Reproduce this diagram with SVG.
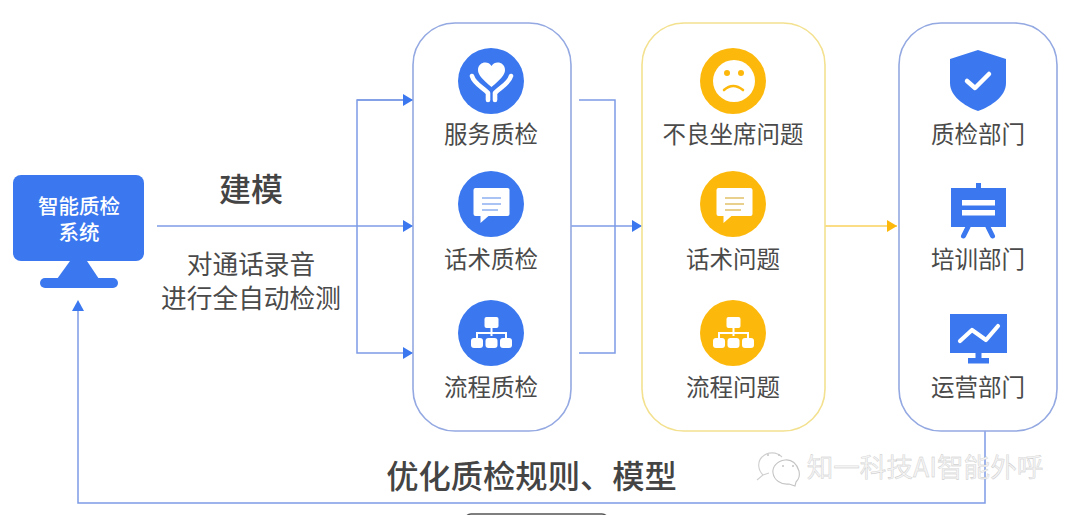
<svg xmlns="http://www.w3.org/2000/svg" width="1080" height="515" viewBox="0 0 1080 515">
<style>
text{font-family:"Noto Sans CJK SC","Liberation Sans",sans-serif;fill:#4a4a4a;text-anchor:middle}
.lb{font-size:23.5px}
.panel{fill:#fff;stroke-width:1.6}
.bl{stroke:#94a9e2}
.ye{stroke:#f3e18f}
.c{fill:none;stroke:#7d9be6;stroke-width:1.5}
.w{fill:#fff}
.ws{fill:none;stroke:#fff;stroke-linecap:round;stroke-linejoin:round}
.blue{fill:#3b78ef}
.yel{fill:#fdb80c}
.wm{font-size:26.6px;fill:#f4f4f4;stroke:#c4c4c4;stroke-width:.35px}
</style>
<defs>
<marker id="ab" markerUnits="userSpaceOnUse" markerWidth="11" markerHeight="12" refX="10" refY="6" orient="auto"><path d="M0 0L10 6L0 12Z" fill="#3b78ef"/></marker>
<marker id="ay" markerUnits="userSpaceOnUse" markerWidth="11" markerHeight="12" refX="10" refY="6" orient="auto"><path d="M0 0L10 6L0 12Z" fill="#fdb80c"/></marker>
<g id="chat"><path d="M-16-16H16Q18-16 18-14V10Q18 12 16 12H-3L-11 19V12H-16Q-18 12-18 10V-14Q-18-16-16-16Z" class="w"/></g>
<g id="tree"><rect x="-7" y="-16" width="14" height="11" rx="2" class="w"/><path d="M0-5V3M-14.500 6V0H14.500V6" fill="none" stroke="#fff" stroke-width="2"/><rect x="-20.500" y="5" width="12" height="10" rx="3" class="w"/><rect x="-6" y="5" width="12" height="10" rx="3" class="w"/><rect x="8.500" y="5" width="12" height="10" rx="3" class="w"/></g>
</defs>
<rect width="1080" height="515" fill="#fff"/>
<g id="connectors">
<path class="c" d="M157 226H413" marker-end="url(#ab)"/>
<path class="c" d="M413 100H357V353H413" marker-end="url(#ab)"/>
<path class="c" d="M357 100H413" marker-end="url(#ab)"/>
<path class="c" d="M579 100H615V353H579"/>
<path class="c" d="M571 226H642" marker-end="url(#ab)"/>
<path d="M825 226H897" fill="none" stroke="#f8d25c" stroke-width="1.5" marker-end="url(#ay)"/>
<path class="c" d="M985 431V503H78V311"/>
<path d="M78 300L84 311H72Z" fill="#3b78ef"/>
</g>
<g id="system">
<rect x="13" y="175" width="131" height="86" rx="8" class="blue"/>
<path d="M70 261H87L99 279H57Z" class="blue"/>
<rect x="40" y="278" width="78" height="10" rx="5" class="blue"/>
<text font-size="20.500" font-weight="500" style="fill:#fff"><tspan x="79" y="214">智能质检</tspan><tspan x="79" y="240">系统</tspan></text>
</g>
<g id="edge-labels">
<text x="251" y="201" font-size="32" font-weight="500" style="fill:#444">建模</text>
<text x="251" y="274" font-size="25.700">对通话录音</text>
<text x="251" y="308" font-size="25.700">进行全自动检测</text>
<text x="531.500" y="488" font-size="32.300" font-weight="500" style="fill:#444">优化质检规则、模型</text>
</g>
<g id="panel-qc">
<rect x="413" y="23" width="158" height="408" rx="42" class="panel bl"/>
<g id="service-qc"><circle cx="491" cy="81" r="33" class="blue"/>
<path d="M491.500 87C483 80 478 75 478 70C478 62 488 60 491.500 66C495 60 505 62 505 70C505 75 500 80 491.500 87Z" class="w"/>
<path class="ws" stroke-width="4.600" d="M472 76C474 84 484 88 488 93V100M511 76C509 84 499 88 495 93V100"/>
<text x="491" y="143" class="lb">服务质检</text></g>
<g id="script-qc"><circle cx="491" cy="204" r="33" class="blue"/><use href="#chat" x="491.500" y="204"/>
<path d="M482 198H501M482 204H501M482 210H498" stroke="#8fb0f2" stroke-width="1.600" fill="none"/>
<text x="491" y="268" class="lb">话术质检</text></g>
<g id="flow-qc"><circle cx="491" cy="333" r="33" class="blue"/><use href="#tree" x="491.500" y="333"/>
<text x="491" y="396" class="lb">流程质检</text></g>
</g>
<g id="panel-problem">
<rect x="642" y="23" width="183" height="408" rx="42" class="panel ye"/>
<g id="bad-agent"><circle cx="733" cy="81" r="33" class="yel"/><circle cx="734" cy="81" r="21" class="w"/>
<circle cx="727" cy="73" r="3" class="yel"/><circle cx="741" cy="73" r="3" class="yel"/>
<path d="M724 90Q733 82 743 90" fill="none" stroke="#fdb80c" stroke-width="2.600" stroke-linecap="round"/>
<text x="733" y="143" class="lb">不良坐席问题</text></g>
<g id="script-problem"><circle cx="733" cy="204" r="33" class="yel"/><use href="#chat" x="734.500" y="204"/>
<path d="M725 198H744M725 204H744M725 210H741" stroke="#e2c268" stroke-width="1.600" fill="none"/>
<text x="733" y="268" class="lb">话术问题</text></g>
<g id="flow-problem"><circle cx="733" cy="333" r="33" class="yel"/><use href="#tree" x="733.500" y="333"/>
<text x="733" y="396" class="lb">流程问题</text></g>
</g>
<g id="panel-dept">
<rect x="899" y="23" width="158" height="408" rx="42" class="panel bl"/>
<g id="qc-dept"><path d="M978 50L1006 59V83C1006 96 992 106 978 111C964 106 950 96 950 83V59Z" class="blue"/>
<path class="ws" stroke-width="4.500" d="M967 81L975 88L989 74"/>
<text x="978" y="143" class="lb">质检部门</text></g>
<g id="train-dept"><rect x="976" y="183" width="5" height="6" class="blue"/><rect x="951" y="188" width="55" height="39" class="blue"/>
<path d="M968 227L963.500 236M988 227L992.500 236" stroke="#3b78ef" stroke-width="5" stroke-linecap="round"/>
<rect x="962" y="200" width="33" height="5.500" class="w"/><rect x="962" y="210" width="33" height="5.500" class="w"/>
<text x="978" y="268" class="lb">培训部门</text></g>
<g id="ops-dept"><rect x="950" y="314" width="57" height="39" class="blue"/>
<path class="ws" stroke-width="4.200" d="M960 341L972 330L986 340L998 326"/>
<rect x="975.500" y="353" width="6" height="6" class="blue"/><rect x="968" y="358" width="21" height="5.500" class="blue"/>
<text x="978" y="396" class="lb">运营部门</text></g>
</g>
<g id="watermark">
<path d="M782 457C777 452 768 451 762 457C757 462 758 470 763 475L757 480M763 475L769 473" fill="none" stroke="#cfcfcf" stroke-width="1.100"/>
<path d="M785 460C777 461 772 467 773 473C774 480 781 485 789 484L795 486L796 482C799 479 800 475 799 471C797 464 792 459 785 460Z" fill="#fff" stroke="#c4c4c4" stroke-width="1.100"/>
<circle cx="768" cy="455" r="1" fill="#c4c4c4"/><circle cx="779" cy="455" r="1" fill="#c4c4c4"/><circle cx="783" cy="466" r="1" fill="#c4c4c4"/><circle cx="793" cy="466" r="1" fill="#c4c4c4"/>
<text x="925" y="477" class="wm">知一科技AI智能外呼</text>
</g>
<rect id="bottom-shape" x="465" y="514" width="143" height="12" rx="6" fill="none" stroke="#555" stroke-width="1.500"/>
</svg>
